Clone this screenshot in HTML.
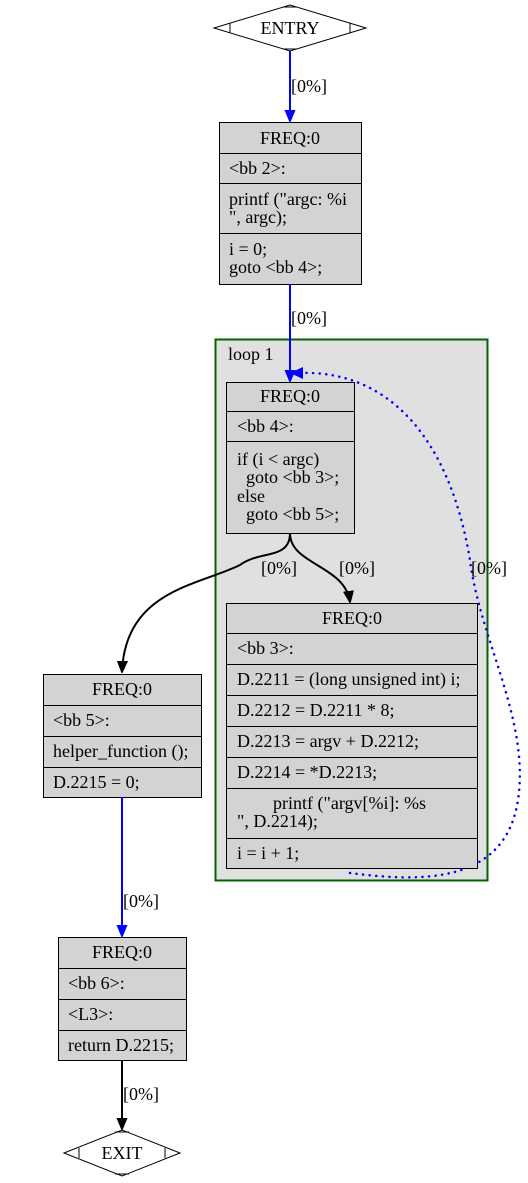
<!DOCTYPE html>
<html><head><meta charset="utf-8"><style>
html,body{margin:0;padding:0;background:#fff;}
svg{display:block;}
text{font-family:"Liberation Serif","Times New Roman",serif;font-size:18px;fill:#000;}
</style></head><body>
<svg width="528" height="1183" viewBox="0 0 528 1183" xmlns="http://www.w3.org/2000/svg">
<defs>
<marker id="ab" markerWidth="12" markerHeight="12" refX="11" refY="6" orient="auto" markerUnits="userSpaceOnUse"><path d="M0,1 L12,6 L0,11 z" fill="#0000ff" stroke="#0000ff"/></marker>
<marker id="ak" markerWidth="12" markerHeight="12" refX="11" refY="6" orient="auto" markerUnits="userSpaceOnUse"><path d="M0,1 L12,6 L0,11 z" fill="#000" stroke="#000"/></marker>
</defs>
<rect x="215.5" y="339.5" width="272" height="541" fill="#e0e0e0" stroke="#006400" stroke-width="2"/>
<text x="228" y="360">loop 1</text>
<polygon points="214,28 290,5 366,28 290,51" fill="#fff" stroke="#000"/>
<path d="M230,23 v10 M350,23 v10 M283,7 h14 M283,49 h14" stroke="#000" fill="none"/>
<text x="290" y="34" text-anchor="middle">ENTRY</text>
<line x1="290" y1="51" x2="290" y2="121" stroke="#0000ff" stroke-width="2" marker-end="url(#ab)"/>
<text x="291" y="92">[0%]</text>
<g stroke="#000" fill="#d3d3d3">
<rect x="219.5" y="122.5" width="142" height="162"/>
<line x1="219.5" y1="153.5" x2="361.5" y2="153.5"/>
<line x1="219.5" y1="183.5" x2="361.5" y2="183.5"/>
<line x1="219.5" y1="233.5" x2="361.5" y2="233.5"/>
</g>
<text x="290" y="144" text-anchor="middle">FREQ:0</text>
<text x="229" y="174">&lt;bb 2&gt;:</text>
<text x="229" y="205">printf ("argc: %i</text>
<text x="229" y="223">", argc);</text>
<text x="229" y="255">i = 0;</text>
<text x="229" y="273">goto &lt;bb 4&gt;;</text>
<line x1="290" y1="284" x2="290" y2="381" stroke="#0000ff" stroke-width="2" marker-end="url(#ab)"/>
<text x="291" y="324">[0%]</text>
<g stroke="#000" fill="#d3d3d3">
<rect x="226.5" y="382.5" width="128" height="151"/>
<line x1="226.5" y1="411.5" x2="354.5" y2="411.5"/>
<line x1="226.5" y1="441.5" x2="354.5" y2="441.5"/>
</g>
<text x="290" y="402" text-anchor="middle">FREQ:0</text>
<text x="237" y="432">&lt;bb 4&gt;:</text>
<text x="237" y="465">if (i &lt; argc)</text>
<text x="237" y="483" xml:space="preserve">  goto &lt;bb 3&gt;;</text>
<text x="237" y="502">else</text>
<text x="237" y="520" xml:space="preserve">  goto &lt;bb 5&gt;;</text>
<path d="M290,533 C290,560 260,550 240,565 C200,585 125,590 122,672" fill="none" stroke="#000" stroke-width="2" marker-end="url(#ak)"/>
<text x="261" y="574">[0%]</text>
<path d="M290,533 C290,565 345,565 350,602" fill="none" stroke="#000" stroke-width="2" marker-end="url(#ak)"/>
<text x="339" y="574">[0%]</text>
<path d="M350,873 C420,882 505,885 518,800 C530,720 480,640 470,560 C450,440 390,370 300,373" fill="none" stroke="#0000ff" stroke-width="2.5" stroke-dasharray="0.1,6.5" stroke-linecap="round"/>
<path d="M290,373 L303,367 L303,379 z" fill="#0000ff"/>
<text x="471" y="574">[0%]</text>
<g stroke="#000" fill="#d3d3d3">
<rect x="226.5" y="603.5" width="251" height="265"/>
<line x1="226.5" y1="633.5" x2="477.5" y2="633.5"/>
<line x1="226.5" y1="664.5" x2="477.5" y2="664.5"/>
<line x1="226.5" y1="695.5" x2="477.5" y2="695.5"/>
<line x1="226.5" y1="726.5" x2="477.5" y2="726.5"/>
<line x1="226.5" y1="757.5" x2="477.5" y2="757.5"/>
<line x1="226.5" y1="788.5" x2="477.5" y2="788.5"/>
<line x1="226.5" y1="838.5" x2="477.5" y2="838.5"/>
</g>
<text x="352" y="624" text-anchor="middle">FREQ:0</text>
<text x="237" y="654">&lt;bb 3&gt;:</text>
<text x="237" y="685">D.2211 = (long unsigned int) i;</text>
<text x="237" y="716">D.2212 = D.2211 * 8;</text>
<text x="237" y="747">D.2213 = argv + D.2212;</text>
<text x="237" y="778">D.2214 = *D.2213;</text>
<text x="273" y="809">printf ("argv[%i]: %s</text>
<text x="237" y="827">", D.2214);</text>
<text x="237" y="859">i = i + 1;</text>
<g stroke="#000" fill="#d3d3d3">
<rect x="43.5" y="674.5" width="158" height="123"/>
<line x1="43.5" y1="705.5" x2="201.5" y2="705.5"/>
<line x1="43.5" y1="736.5" x2="201.5" y2="736.5"/>
<line x1="43.5" y1="767.5" x2="201.5" y2="767.5"/>
</g>
<text x="122" y="695" text-anchor="middle">FREQ:0</text>
<text x="53" y="726">&lt;bb 5&gt;:</text>
<text x="53" y="757">helper_function ();</text>
<text x="53" y="788">D.2215 = 0;</text>
<line x1="122" y1="797" x2="122" y2="936" stroke="#0000ff" stroke-width="2" marker-end="url(#ab)"/>
<text x="123" y="907">[0%]</text>
<g stroke="#000" fill="#d3d3d3">
<rect x="58.5" y="937.5" width="128" height="123"/>
<line x1="58.5" y1="968.5" x2="186.5" y2="968.5"/>
<line x1="58.5" y1="999.5" x2="186.5" y2="999.5"/>
<line x1="58.5" y1="1030.5" x2="186.5" y2="1030.5"/>
</g>
<text x="122" y="958" text-anchor="middle">FREQ:0</text>
<text x="68" y="989">&lt;bb 6&gt;:</text>
<text x="68" y="1020">&lt;L3&gt;:</text>
<text x="68" y="1051">return D.2215;</text>
<line x1="122" y1="1060" x2="122" y2="1129" stroke="#000" stroke-width="2" marker-end="url(#ak)"/>
<text x="123" y="1100">[0%]</text>
<polygon points="64,1153 122,1130 180,1153 122,1176" fill="#fff" stroke="#000"/>
<path d="M79,1148 v10 M165,1148 v10 M115,1132 h14 M115,1174 h14" stroke="#000" fill="none"/>
<text x="122" y="1159" text-anchor="middle">EXIT</text>
</svg>
</body></html>
